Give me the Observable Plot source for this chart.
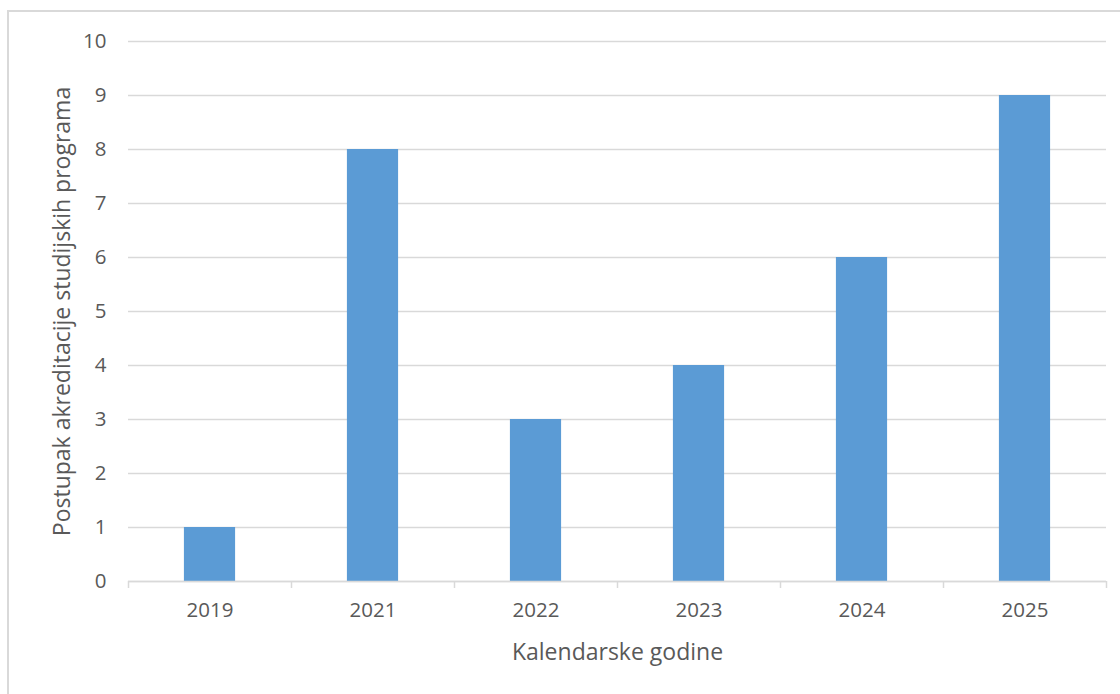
<!DOCTYPE html>
<html>
<head>
<meta charset="utf-8">
<script src="https://cdn.jsdelivr.net/npm/d3@7"></script>
<script src="https://cdn.jsdelivr.net/npm/@observablehq/plot@0.6"></script>
<style>
  html, body { margin: 0; padding: 0; background: #fff; }
  #wrap { position: relative; width: 1120px; height: 694px; overflow: hidden; }
  #border { position: absolute; left: 7px; top: 10px; width: 1200px; height: 800px; border: 2px solid #d9d9d9; box-sizing: border-box; }
  #chart { position: absolute; left: 0; top: 0; }
</style>
</head>
<body>
<div id="wrap"><div id="border"></div><div id="chart"></div></div>
<script>
const years = ["2019", "2021", "2022", "2023", "2024", "2025"];
const counts = [1, 8, 3, 4, 6, 9];
const yTicks = [0, 1, 2, 3, 4, 5, 6, 7, 8, 9, 10];
const xTitle = "Kalendarske godine";
const yTitle = "Postupak akreditacije studijskih programa";

const data = years.map((y, i) => ({year: y, i, value: counts[i]}));
const half = 0.157;
const boundaries = d3.range(years.length + 1);
const centers = years.map((_, i) => i + 0.5);

const chart = Plot.plot({
  width: 1120,
  height: 694,
  marginLeft: 128,
  marginRight: 14,
  marginTop: 41,
  marginBottom: 113,
  style: {fontFamily: "'Open Sans', sans-serif", fontSize: "20px", color: "#595959", background: "transparent"},
  x: {type: "linear", domain: [0, years.length]},
  y: {domain: [0, 10]},
  marks: [
    Plot.gridY(yTicks, {stroke: "#d9d9d9", strokeOpacity: 1, strokeWidth: 1.5}),
    Plot.rectY(data, {x1: d => d.i + 0.5 - half, x2: d => d.i + 0.5 + half, y1: 0, y2: "value", fill: "#5b9bd5"}),
    Plot.ruleY([0], {stroke: "#d9d9d9", strokeWidth: 1.5}),
    Plot.axisX(boundaries, {tickSize: 7, tickFormat: () => "", stroke: "#d9d9d9", strokeWidth: 1.5, label: null}),
    Plot.axisX(centers, {tickSize: 0, tickPadding: 21, tickFormat: v => years[Math.floor(v)], fontSize: 20.5, fill: "#595959", label: null}),
    Plot.axisY(yTicks, {tickSize: 0, tickPadding: 22, tickFormat: "d", fontSize: 20.5, fill: "#595959", label: null}),
    Plot.text([xTitle], {frameAnchor: "bottom", dy: 78, fontSize: 23, fill: "#595959"}),
    Plot.text([yTitle], {frameAnchor: "left", dx: -66, rotate: -90, textAnchor: "middle", fontSize: 23, fill: "#595959"})
  ]
});
document.getElementById("chart").appendChild(chart);
</script>
</body>
</html>
